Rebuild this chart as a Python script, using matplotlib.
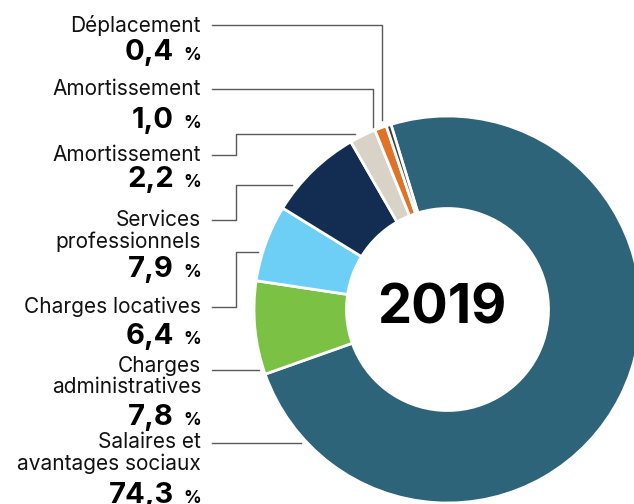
import matplotlib.pyplot as plt
from matplotlib.lines import Line2D

W, H = 634, 504

# data (clockwise from top)
labels = ["Salaires et\navantages sociaux", "Charges\nadministratives", "Charges locatives",
          "Services\nprofessionnels", "Amortissement", "Amortissement", "Déplacement"]
values = [74.3, 7.8, 6.4, 7.9, 2.2, 1.0, 0.4]
value_text = ["74,3", "7,8", "6,4", "7,9", "2,2", "1,0", "0,4"]
colors = ["#2e6479", "#7bc143", "#6dcff6", "#132d52", "#d9d3c7", "#e07326", "#3b3b3d"]
year = "2019"

plt.rcParams['font.family'] = ['Inter', 'DejaVu Sans']

fig = plt.figure(figsize=(W / 100, H / 100), dpi=100)

# donut: centre (447.5, 309.5) px, outer radius 193.5 px
cx, cy, r = 447.5, 309.5, 193.5
ax = fig.add_axes([(cx - r) / W, (H - cy - r) / H, 2 * r / W, 2 * r / H])
ax.pie(values, colors=colors, startangle=107, counterclock=False, radius=1,
       wedgeprops=dict(width=0.478, edgecolor='white', linewidth=2))
ax.set_xlim(-1, 1)
ax.set_ylim(-1, 1)
ax.axis('off')
ax.text(-0.027, 0.005, year, ha='center', va='center', fontsize=39, fontweight='bold')


def px(x, y):
    return x / W, 1 - y / H


# label positions (last-line baseline, value baseline), in pixels from top
label_base = [470, 393, 313, 248, 161, 95, 32]
value_base = [503, 425, 344, 277, 187, 128, 60]
for lab, vt, lb, vb in zip(labels, value_text, label_base, value_base):
    fig.text(*px(201, lb), lab, ha='right', va='baseline', fontsize=15,
             linespacing=1.08, color='#111111')
    fig.text(*px(174, vb), vt, ha='right', va='baseline', fontsize=21,
             fontweight='bold', color='black')
    fig.text(*px(201, vb), "%", ha='right', va='baseline', fontsize=12.5,
             fontweight='bold', color='black')

# leader lines (pixel paths)
leaders = [
    [(212, 443), (301, 443)],
    [(212, 370), (259, 370)],
    [(212, 307), (236, 307), (236, 252), (258, 252)],
    [(212, 220), (236, 220), (236, 185), (292, 185)],
    [(212, 155), (236, 155), (236, 134), (355, 134)],
    [(212, 89), (373, 89), (373, 127)],
    [(212, 25), (382, 25), (382, 120)],
]
for path in leaders:
    xs = [p[0] / W for p in path]
    ys = [1 - p[1] / H for p in path]
    fig.add_artist(Line2D(xs, ys, color='#58595b', linewidth=1.0))

fig.savefig('out.png', dpi=100)
